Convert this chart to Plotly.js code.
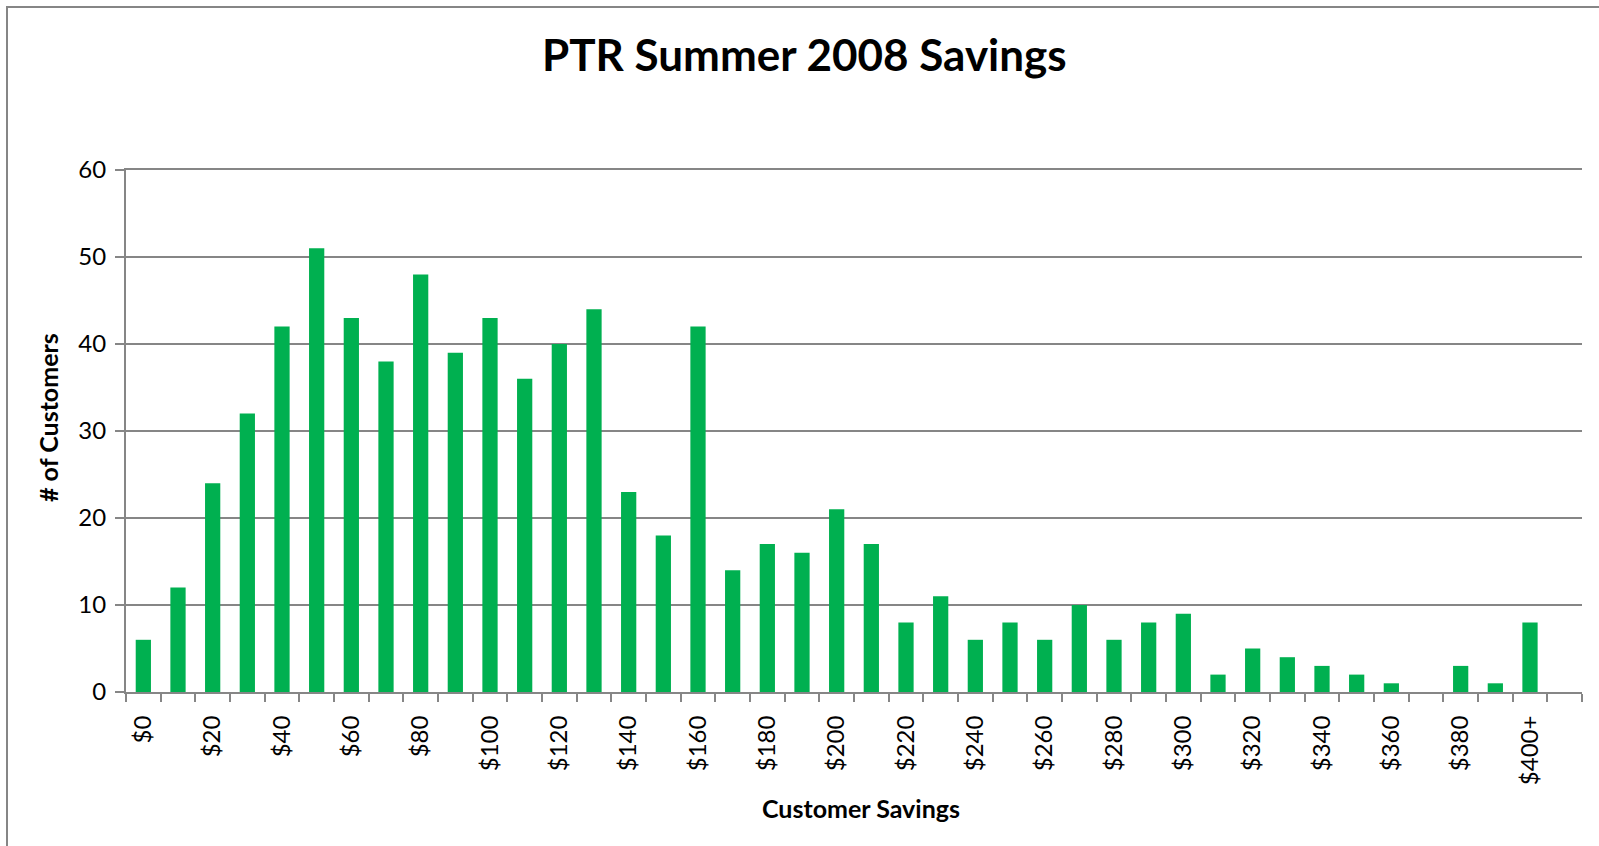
<!DOCTYPE html>
<html>
<head>
<meta charset="utf-8">
<script src="https://cdn.plot.ly/plotly-3.0.1.min.js"></script>
<style>
  html, body { margin: 0; padding: 0; background: #ffffff; }
  #chart { width: 1599px; height: 846px; }
</style>
</head>
<body>
<div id="chart"></div>
<script>
// Savings bands, $10 wide, with an open-ended top band
const categories = [
  '$0', '$10', '$20', '$30', '$40', '$50', '$60', '$70', '$80', '$90',
  '$100', '$110', '$120', '$130', '$140', '$150', '$160', '$170', '$180', '$190',
  '$200', '$210', '$220', '$230', '$240', '$250', '$260', '$270', '$280', '$290',
  '$300', '$310', '$320', '$330', '$340', '$350', '$360', '$370', '$380', '$390',
  '$400+'
];

// Number of customers in each savings band
const customers = [
  6, 12, 24, 32, 42, 51, 43, 38, 48, 39,
  43, 36, 40, 44, 23, 18, 42, 14, 17, 16,
  21, 17, 8, 11, 6, 8, 6, 10, 6, 8,
  9, 2, 5, 4, 3, 2, 1, 0, 3, 1,
  8
];

const yTicks = [0, 10, 20, 30, 40, 50, 60];

const axisGray = '#868686';
const barGreen = '#00B050';
const fontFamily = 'Lato, Carlito, Calibri, sans-serif';

// Plot area in pixels
const W = 1599, H = 846;
const M = { l: 126, r: 17, t: 170, b: 154 };
const plotW = W - M.l - M.r, plotH = H - M.t - M.b;
const px = x => (x - M.l) / plotW;          // page x -> paper x
const py = y => (H - M.b - y) / plotH;      // page y -> paper y

// Bars sit at integer slots; labels go on every other band
const slots = categories.map((_, i) => i);
const labelSlots = slots.filter(i => i % 2 === 0);
const labelText = labelSlots.map(i => categories[i]);
// one spare slot after the last band, as in the source workbook
const slotCount = categories.length + 1;
const boundaries = [];
for (let b = 0; b <= slotCount; b++) boundaries.push(b - 0.5);

const trace = {
  type: 'bar',
  x: slots,
  y: customers,
  customdata: categories,
  textposition: 'none',
  marker: { color: barGreen, line: { width: 0 } },
  hovertemplate: '%{customdata}: %{y}<extra></extra>'
};

const titleFont = { family: fontFamily, size: 25, weight: 'bold', color: '#000000' };

const layout = {
  width: W,
  height: H,
  paper_bgcolor: '#ffffff',
  plot_bgcolor: '#ffffff',
  margin: { l: M.l, r: M.r, t: M.t, b: M.b, pad: 0 },
  bargap: 0.56,
  showlegend: false,
  font: { family: fontFamily, color: '#000000' },
  title: {
    text: 'PTR Summer 2008 Savings',
    font: { family: fontFamily, size: 44, weight: 'bold', color: '#000000' },
    xref: 'container', yref: 'container',
    x: 0.503, xanchor: 'center',
    y: 1 - 56 / H, yanchor: 'middle'
  },
  xaxis: {
    range: [-0.5, slotCount - 0.5],
    tickmode: 'array',
    tickvals: labelSlots,
    ticktext: labelText,
    tickangle: -90,
    ticks: '',
    ticklabelstandoff: 12,
    tickfont: { family: fontFamily, size: 24, color: '#000000' },
    minor: {
      tickmode: 'array',
      tickvals: boundaries,
      ticks: 'outside',
      ticklen: 8,
      tickwidth: 2,
      tickcolor: axisGray,
      showgrid: false
    },
    showgrid: false,
    zeroline: false,
    showline: true,
    mirror: true,
    linecolor: axisGray,
    linewidth: 2,
    fixedrange: true
  },
  yaxis: {
    range: [0, 60],
    tickmode: 'array',
    tickvals: yTicks,
    ticks: 'outside',
    ticklen: 9,
    tickwidth: 2,
    tickcolor: axisGray,
    ticklabelstandoff: 4,
    tickfont: { family: fontFamily, size: 24, color: '#000000' },
    showgrid: true,
    gridcolor: axisGray,
    gridwidth: 2,
    zeroline: false,
    showline: true,
    linecolor: axisGray,
    linewidth: 2,
    fixedrange: true
  },
  annotations: [
    {
      text: '# of Customers',
      textangle: -90,
      xref: 'paper', yref: 'paper',
      x: px(48), xanchor: 'center',
      y: py(418), yanchor: 'middle',
      showarrow: false,
      font: titleFont
    },
    {
      text: 'Customer Savings',
      xref: 'paper', yref: 'paper',
      x: px(861), xanchor: 'center',
      y: py(808), yanchor: 'middle',
      showarrow: false,
      font: titleFont
    }
  ],
  shapes: [
    // chart area frame (left and top edges fall inside the page)
    {
      type: 'rect', xref: 'paper', yref: 'paper',
      x0: px(7), x1: px(W + 12),
      y0: py(H + 12), y1: py(7),
      line: { color: axisGray, width: 2 },
      fillcolor: 'rgba(0,0,0,0)',
      layer: 'below'
    }
  ]
};

Plotly.newPlot('chart', [trace], layout, { displayModeBar: false, staticPlot: true });
</script>
</body>
</html>
